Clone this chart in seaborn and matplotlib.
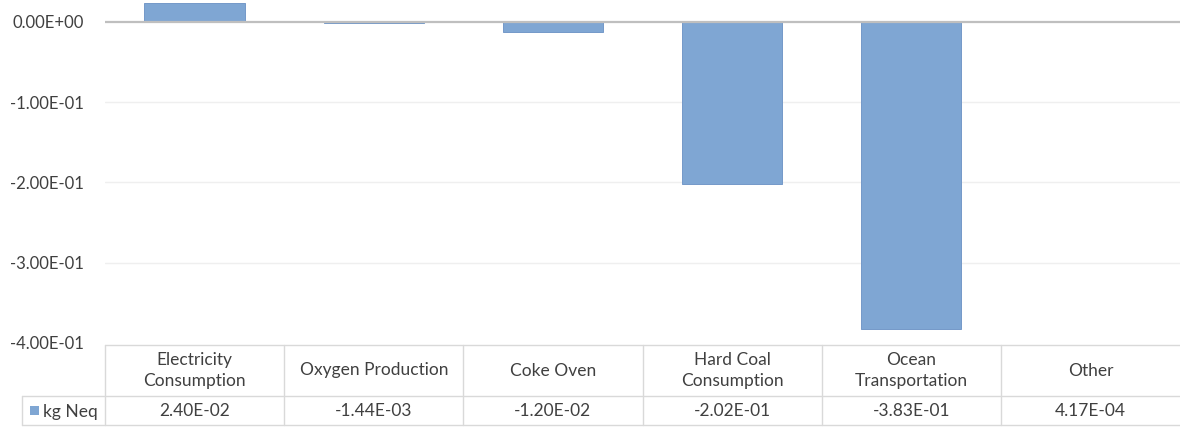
import matplotlib
matplotlib.use("Agg")
import matplotlib.pyplot as plt
import matplotlib.transforms as mtransforms
import pandas as pd
import seaborn as sns

categories = ["Electricity\nConsumption", "Oxygen Production", "Coke Oven",
              "Hard Coal\nConsumption", "Ocean\nTransportation", "Other"]
values = [2.40e-02, -1.44e-03, -1.20e-02, -2.02e-01, -3.83e-01, 4.17e-04]
series_name = "kg Neq"
yticks = [0.0, -0.1, -0.2, -0.3, -0.4]

sns.set_theme(style="white")
plt.rcParams["font.family"] = ["Lato", "DejaVu Sans"]

W, H = 1180, 428
fig = plt.figure(figsize=(W / 100, H / 100), dpi=100)
ax = fig.add_axes([105 / W, 1 - 343 / H, 1 - 105 / W, 343 / H])

bar_color = "#7fa6d3"
text_color = "#404040"
line_color = "#d9d9d9"

df = pd.DataFrame({"category": categories, "value": values})
sns.barplot(data=df, x="category", y="value", ax=ax, color=bar_color,
            saturation=1, width=0.56, edgecolor="#7499c9", linewidth=0.7)

ax.set_xlim(-0.5, len(categories) - 0.5)
ax.set_ylim(-0.4, 0.0274)
ax.set_yticks(yticks)
ax.set_yticklabels([f"{v:.2E}" for v in yticks], fontsize=12, color=text_color)
ax.tick_params(axis="y", length=0, pad=15.5)
ax.set_xticks([])
ax.set_xlabel("")
ax.set_ylabel("")
for s in ax.spines.values():
    s.set_visible(False)

# gridlines and zero baseline
for v in yticks[1:-1]:
    ax.axhline(v, color="#efefef", lw=1, zorder=0)
ax.axhline(0, color="#bfbfbf", lw=1.6, zorder=3)

# data table below the plot
def fy(px):
    return 1 - px / H

def fx(px):
    return px / W

trans = mtransforms.blended_transform_factory(ax.transData, fig.transFigure)
ftr = fig.transFigure
y_top, y_mid, y_bot = 345, 396, 425
x_left_legend, x_left = 22, 105

fig.add_artist(plt.Line2D([fx(x_left), 1], [fy(y_top)] * 2, transform=ftr, color=line_color, lw=1))
fig.add_artist(plt.Line2D([fx(x_left_legend), 1], [fy(y_mid)] * 2, transform=ftr, color=line_color, lw=1))
fig.add_artist(plt.Line2D([fx(x_left_legend), 1], [fy(y_bot)] * 2, transform=ftr, color=line_color, lw=1))
fig.add_artist(plt.Line2D([fx(x_left_legend)] * 2, [fy(y_mid), fy(y_bot)], transform=ftr, color=line_color, lw=1))
for i in range(len(categories)):
    xb = i - 0.5
    fig.add_artist(plt.Line2D([xb, xb], [fy(y_top), fy(y_bot)], transform=trans, color=line_color, lw=1))

for i, (cat, val) in enumerate(zip(categories, values)):
    fig.text(i, fy((y_top + y_mid) / 2), cat, transform=trans, ha="center", va="center",
             fontsize=12.5, color=text_color, linespacing=1.45)
    fig.text(i, fy((y_mid + y_bot) / 2 + 1), f"{val:.2E}", transform=trans, ha="center",
             va="center", fontsize=12.5, color=text_color)

# legend key in the table's row header
fig.add_artist(plt.Rectangle((fx(30), fy(415)), 9 / W, 9 / H, transform=ftr,
                             facecolor=bar_color, edgecolor="none"))
fig.text(fx(43), fy((y_mid + y_bot) / 2 + 1), series_name, ha="left", va="center",
         fontsize=12.5, color=text_color)

fig.savefig("out.png", dpi=100, facecolor="white")
